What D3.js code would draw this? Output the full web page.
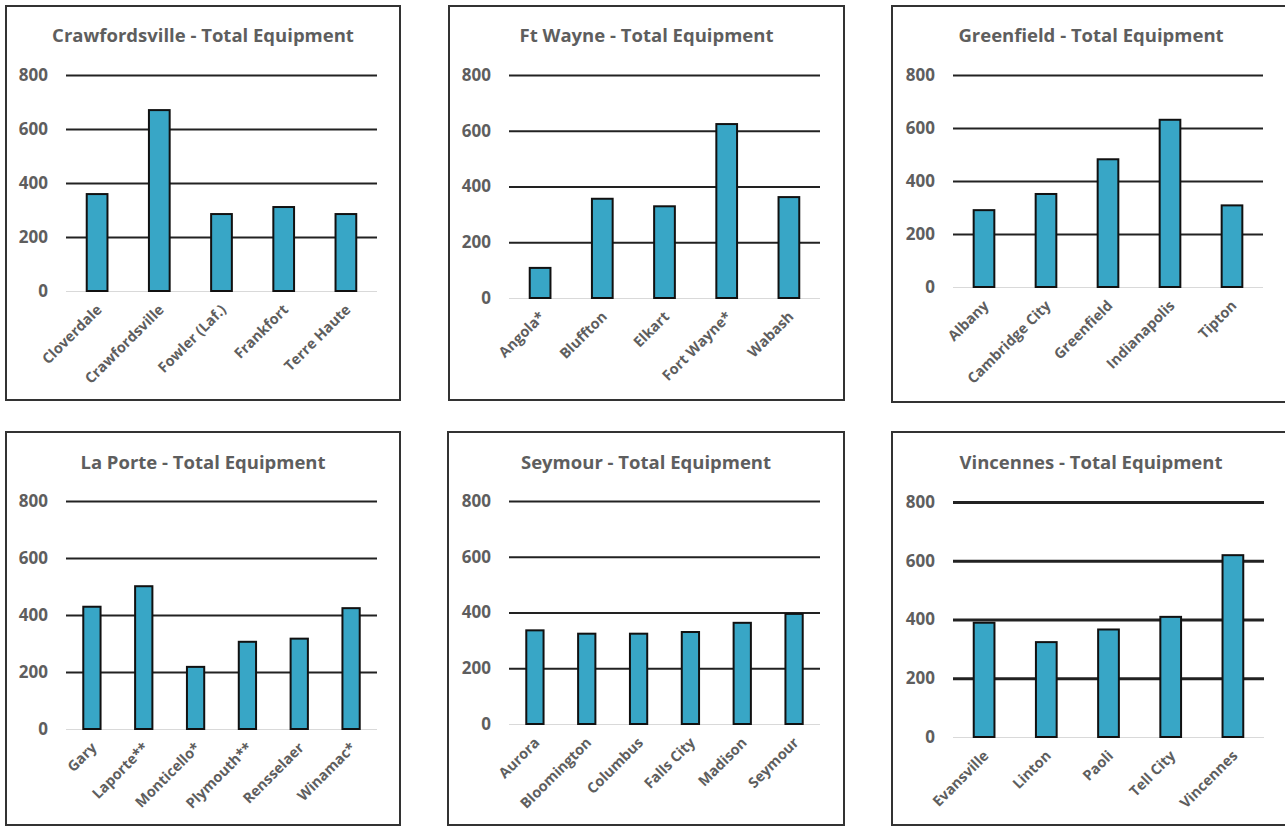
<!DOCTYPE html>
<html>
<head>
<meta charset="utf-8">
<script src="https://cdn.jsdelivr.net/npm/d3@7"></script>
<style>
  html, body { margin: 0; padding: 0; background: #fff; }
  svg { display: block; }
  text { font-family: "Open Sans", Lato, sans-serif; font-weight: 700; fill: #5e5e5e; }
</style>
</head>
<body>
<svg id="chart" width="1285" height="827"></svg>
<script>
// Equipment totals per site, grouped by district
const yTicks = [0, 200, 400, 600, 800];

const crawfordsvilleSites = ["Cloverdale", "Crawfordsville", "Fowler (Laf.)", "Frankfort", "Terre Haute"];
const crawfordsvilleTotals = [359, 670, 285, 311, 285];

const ftWayneSites = ["Angola*", "Bluffton", "Elkart", "Fort Wayne*", "Wabash"];
const ftWayneTotals = [108, 356, 329, 624, 362];

const greenfieldSites = ["Albany", "Cambridge City", "Greenfield", "Indianapolis", "Tipton"];
const greenfieldTotals = [290, 351, 482, 631, 308];

const laPorteSites = ["Gary", "Laporte**", "Monticello*", "Plymouth**", "Rensselaer", "Winamac*"];
const laPorteTotals = [429, 501, 218, 306, 317, 424];

const seymourSites = ["Aurora", "Bloomington", "Columbus", "Falls City", "Madison", "Seymour"];
const seymourTotals = [336, 324, 324, 330, 363, 395];

const vincennesSites = ["Evansville", "Linton", "Paoli", "Tell City", "Vincennes"];
const vincennesTotals = [389, 323, 366, 409, 619];

// Panel layout: outer frame and plot area for each district chart
const panels = [
  { title: "Crawfordsville - Total Equipment", sites: crawfordsvilleSites, totals: crawfordsvilleTotals,
    frame: [6, 6, 400, 400], plot: [66, 377, 75, 291], titleY: 36, grid: 2 },
  { title: "Ft Wayne - Total Equipment", sites: ftWayneSites, totals: ftWayneTotals,
    frame: [449, 6, 844, 400], plot: [509, 820, 75, 298], titleY: 36, grid: 2 },
  { title: "Greenfield  - Total Equipment", sites: greenfieldSites, totals: greenfieldTotals,
    frame: [892, 6, 1290, 402], plot: [953, 1263, 75, 287], titleY: 36, grid: 2 },
  { title: "La Porte - Total Equipment", sites: laPorteSites, totals: laPorteTotals,
    frame: [6, 432, 400, 825], plot: [66, 377, 501, 729], titleY: 463, grid: 2 },
  { title: "Seymour - Total Equipment", sites: seymourSites, totals: seymourTotals,
    frame: [448, 432, 844, 825], plot: [509, 820, 501, 724], titleY: 463, grid: 2 },
  { title: "Vincennes - Total Equipment", sites: vincennesSites, totals: vincennesTotals,
    frame: [892, 432, 1290, 825], plot: [953, 1264, 502, 737], titleY: 463, grid: 3 }
];

const svg = d3.select("#chart");
svg.append("rect").attr("width", 1285).attr("height", 827).attr("fill", "#fff");

panels.forEach(p => {
  const [fx0, fy0, fx1, fy1] = p.frame;
  const [px0, px1, py800, py0] = p.plot;
  const g = svg.append("g");

  // frame
  g.append("rect")
    .attr("x", fx0).attr("y", fy0)
    .attr("width", fx1 - fx0).attr("height", fy1 - fy0)
    .attr("fill", "#fff").attr("stroke", "#333").attr("stroke-width", 2);

  // title
  g.append("text")
    .attr("x", (fx0 + fx1) / 2).attr("y", p.titleY)
    .attr("text-anchor", "middle").attr("dy", "0.35em")
    .style("font-size", "18.5px")
    .text(p.title);

  const x = d3.scaleBand().domain(p.sites).range([px0, px1])
    .paddingInner(2 / 3).paddingOuter(1 / 3);
  const y = d3.scaleLinear().domain([0, 800]).range([py0, py800]);

  // gridlines + value labels
  const yAxis = d3.axisLeft(y).tickValues(yTicks).tickSize(-(px1 - px0)).tickPadding(18);
  const ga = g.append("g").attr("transform", `translate(${px0},0)`).call(yAxis);
  ga.select(".domain").remove();
  ga.selectAll(".tick line")
    .attr("stroke", d => d === 0 ? "#d9d9d9" : "#222")
    .attr("stroke-width", d => d === 0 ? 1 : p.grid);
  ga.selectAll(".tick text")
    .style("font-size", "17px").style("font-family", "'Open Sans', sans-serif")
    .attr("fill", "#5e5e5e");

  // bars
  g.selectAll("rect.bar")
    .data(p.sites.map((s, i) => ({ site: s, value: p.totals[i] })))
    .join("rect").attr("class", "bar")
    .attr("x", d => x(d.site))
    .attr("width", x.bandwidth())
    .attr("y", d => y(d.value))
    .attr("height", d => y(0) - y(d.value))
    .attr("fill", "#38a6c6").attr("stroke", "#111").attr("stroke-width", 2);

  // category labels, slanted
  g.selectAll("text.cat")
    .data(p.sites)
    .join("text").attr("class", "cat")
    .attr("text-anchor", "end")
    .attr("dy", "0.35em")
    .attr("transform", d => `translate(${x(d) + x.bandwidth() / 2 + 2},${py0 + 16}) rotate(-45)`)
    .style("font-size", "14.5px")
    .text(d => d);
});
</script>
</body>
</html>
